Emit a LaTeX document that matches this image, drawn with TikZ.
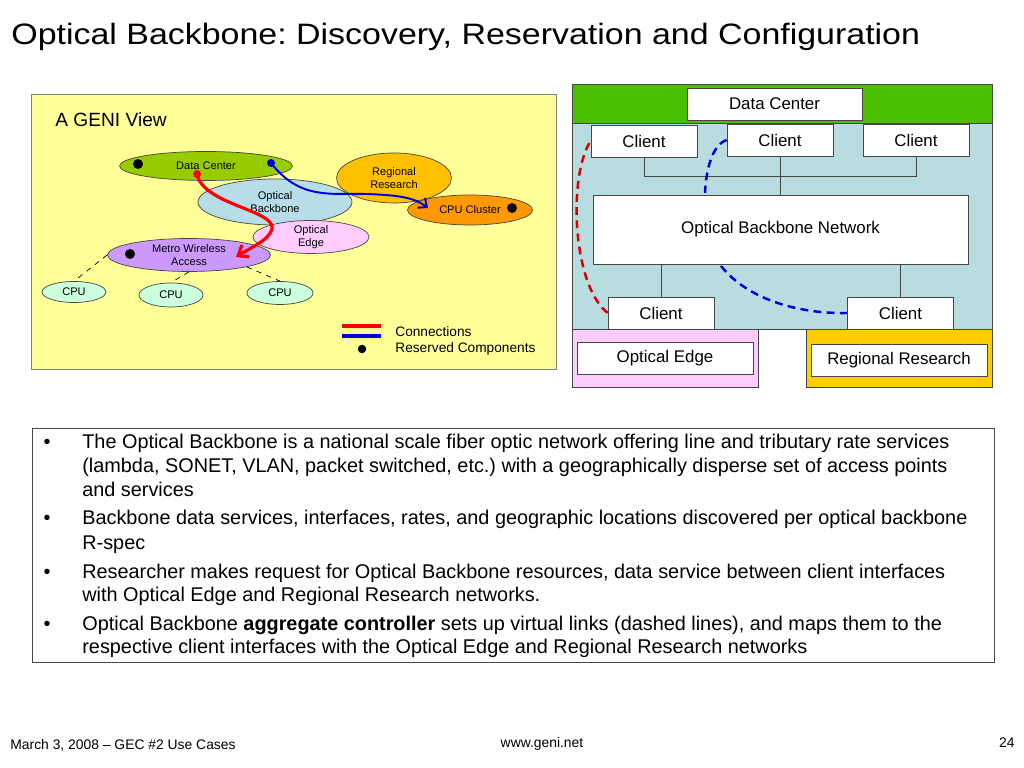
\documentclass[tikz,border=0pt]{standalone}
\usepackage{fontspec}
\setmainfont{Liberation Sans}
\newfontfamily\titlefont[FakeStretch=1.15]{Liberation Sans}
\usetikzlibrary{shapes.geometric,arrows.meta}

\definecolor{viewyellow}{RGB}{255,255,153}
\definecolor{dcgreen}{RGB}{153,204,0}
\definecolor{obblue}{RGB}{183,221,232}
\definecolor{rrgold}{RGB}{255,192,0}
\definecolor{ccorange}{RGB}{255,153,0}
\definecolor{oepink}{RGB}{255,204,255}
\definecolor{mwpurple}{RGB}{204,153,255}
\definecolor{cpugreen}{RGB}{204,255,221}
\definecolor{bargreen}{RGB}{76,190,0}
\definecolor{netblue}{RGB}{183,221,225}
\definecolor{boxgold}{RGB}{255,204,0}
\definecolor{linkred}{RGB}{255,0,0}
\definecolor{linkblue}{RGB}{0,0,220}
\definecolor{rim}{RGB}{70,70,70}
\def\s{0.02}
\def\pxl#1#2{({(#1)*\s},{(768-(#2))*\s})}

\begin{document}
\frenchspacing
\begin{tikzpicture}[
  blob/.style={ellipse,draw=rim,inner sep=0pt,align=center,
    font=\fontsize{6.3}{7.4}\selectfont},
  dotmark/.style={circle,fill=black,inner sep=0pt,minimum size=0.2cm},
  endmark/.style={circle,inner sep=0pt,minimum size=0.16cm},
  netbox/.style={rectangle,draw=rim,fill=white,inner sep=0pt,
    minimum width=2.12cm,minimum height=0.64cm,font=\fontsize{9.6}{11}\selectfont},
  wire/.style={draw=rim,line width=0.5pt},
  vlink/.style={line width=1.4pt,dash pattern=on 4.5pt off 3pt},
  txt/.style={inner sep=0pt,font=\fontsize{11.3}{13}\selectfont},
  foot/.style={inner sep=0pt,font=\fontsize{7.9}{9}\selectfont}]
\useasboundingbox \pxl{0}{0} rectangle \pxl{1024}{768};

% title
\node[inner sep=0pt,anchor=base west,font=\titlefont\fontsize{16.8}{19}\selectfont] (title) at \pxl{11}{45}
  {Optical Backbone: Discovery, Reservation and Configuration};

% the GENI view
\draw[fill=viewyellow,draw=gray] \pxl{31}{94} rectangle \pxl{556}{369};
\node[inner sep=0pt,anchor=base west,font=\fontsize{10.9}{12}\selectfont] (view) at \pxl{55}{127} {A GENI View};
\node[blob,fill=dcgreen,minimum width=3.46cm,minimum height=0.58cm] (dc) at \pxl{206}{166} {Data Center};
\node[blob,fill=obblue,minimum width=3.08cm,minimum height=0.92cm] (ob) at \pxl{275}{202} {Optical\\Backbone};
\node[blob,fill=rrgold,minimum width=2.30cm,minimum height=1.00cm] (rr) at \pxl{394}{178} {Regional\\Research};
\node[blob,fill=ccorange,minimum width=2.50cm,minimum height=0.60cm] (cc) at \pxl{470}{210} {CPU Cluster};
\node[blob,fill=oepink,minimum width=2.32cm,minimum height=0.62cm] (oe) at \pxl{311}{237} {Optical\\Edge};
\node[blob,fill=mwpurple,minimum width=3.26cm,minimum height=0.66cm] (mw) at \pxl{189}{255} {Metro Wireless\\Access};
\node[blob,fill=cpugreen,minimum width=1.28cm,minimum height=0.42cm] (cpua) at \pxl{74}{292} {CPU};
\node[blob,fill=cpugreen,minimum width=1.28cm,minimum height=0.48cm] (cpub) at \pxl{171}{295} {CPU};
\node[blob,fill=cpugreen,minimum width=1.32cm,minimum height=0.46cm] (cpuc) at \pxl{280}{293} {CPU};
\draw[dashed,line width=0.4pt] (mw.west) -- (cpua.north);
\draw[dashed,line width=0.4pt] (mw.south) -- (cpub.north);
\draw[dashed,line width=0.4pt] (mw.south east) -- (cpuc.north);

\node[dotmark] (dcdot) at \pxl{138}{164} {};
\node[dotmark] (ccdot) at \pxl{512}{208} {};
\node[dotmark] (mwdot) at \pxl{130}{254} {};
\node[endmark,fill=linkred] (dcred) at \pxl{197}{174} {};
\node[endmark,fill=linkblue] (dcblue) at \pxl{271}{163} {};
\path \pxl{236}{257} coordinate (mwin);
\path \pxl{428}{208} coordinate (ccin);
\draw[linkred,line width=1.8pt,-{Straight Barb[length=5pt,width=8pt]}] (dcred.center)
  .. controls \pxl{203}{205} and \pxl{276}{210} .. \pxl{272}{229}
  .. controls \pxl{269}{240} and \pxl{252}{247} .. (mwin);
\draw[linkblue,line width=1.1pt,-{Straight Barb[length=4pt,width=7pt]}] (dcblue.center)
  .. controls \pxl{300}{200} and \pxl{330}{193} .. \pxl{365}{194}
  .. controls \pxl{400}{195} and \pxl{415}{198} .. (ccin);

% legend
\path \pxl{342}{326} coordinate (lgr);
\path \pxl{342}{336} coordinate (lgb);
\draw[linkred,line width=2.2pt] (lgr) -- ++(0.78,0);
\draw[linkblue,line width=2.2pt] (lgb) -- ++(0.78,0);
\node[dotmark,minimum size=0.17cm] (lgdot) at \pxl{362}{349} {};
\node[inner sep=0pt,anchor=base west,font=\fontsize{7.8}{9}\selectfont] (lgconn) at \pxl{395}{337} {Connections};
\node[inner sep=0pt,anchor=base west,font=\fontsize{7.8}{9}\selectfont] (lgres) at \pxl{395}{353} {Reserved Components};

% the optical backbone network
\draw[fill=bargreen,draw=rim] \pxl{572}{84} rectangle \pxl{992}{123};
\draw[fill=netblue,draw=rim] \pxl{572}{123} rectangle \pxl{992}{329};
\draw[fill=oepink,draw=rim] \pxl{572}{329} rectangle \pxl{758}{387};
\draw[fill=boxgold,draw=rim] \pxl{806}{329} rectangle \pxl{992}{387};
\node[netbox,minimum width=3.5cm] (dcbox) at \pxl{774.5}{104} {Data Center};
\node[netbox] (cla) at \pxl{644}{141} {Client};
\node[netbox] (clb) at \pxl{780}{140} {Client};
\node[netbox] (clc) at \pxl{916}{140} {Client};
\node[netbox,minimum width=7.5cm,minimum height=1.38cm] (obn) at \pxl{780.5}{229.5} {Optical Backbone Network};
\node[netbox] (cll) at \pxl{661}{313} {Client};
\node[netbox] (clr) at \pxl{900.5}{313} {Client};
\node[netbox,minimum width=3.52cm] (oebox) at \pxl{665}{358} {Optical Edge};
\node[netbox,minimum width=3.52cm] (rrbox) at \pxl{899}{360} {Regional Research};
\draw[wire] (cla.south) -- ++(0,-0.38) -| (clc.south);
\draw[wire] (clb.south) -- (clb.south |- obn.north);
\draw[wire] (cll.north |- obn.south) -- (cll.north);
\draw[wire] (clr.north |- obn.south) -- (clr.north);
\path \pxl{705}{193} coordinate (obtop);
\path \pxl{721}{266} coordinate (obbot);
\draw[vlink,linkred!85!black] (cll.west) .. controls \pxl{572}{285} and \pxl{568}{175} .. (cla.west);
\draw[vlink,linkblue] (clb.west) .. controls \pxl{712}{145} and \pxl{706}{170} .. (obtop);
\draw[vlink,linkblue] (obbot) .. controls \pxl{748}{300} and \pxl{800}{314} .. (clr.west);

% bullets
\draw[draw=rim] \pxl{32}{428} rectangle \pxl{994}{662};
\foreach \y/\n in {449/1,525/2,579/3,631/4}
  \node[txt,anchor=base] (bul\n) at \pxl{47}{\y} {•};
\node[txt,anchor=base west] (ta) at \pxl{82}{449} {The Optical Backbone is a national scale fiber optic network offering line and tributary rate services};
\node[txt,anchor=base west] (tb) at \pxl{82}{473} {(lambda, SONET, VLAN, packet switched, etc.) with a geographically disperse set of access points};
\node[txt,anchor=base west] (tc) at \pxl{82}{497} {and services};
\node[txt,anchor=base west] (td) at \pxl{82}{525} {Backbone data services, interfaces, rates, and geographic locations discovered per optical backbone};
\node[txt,anchor=base west] (te) at \pxl{82}{550} {R-spec};
\node[txt,anchor=base west] (tf) at \pxl{82}{579} {Researcher makes request for Optical Backbone resources, data service between client interfaces};
\node[txt,anchor=base west] (tg) at \pxl{82}{602} {with Optical Edge and Regional Research networks.};
\node[txt,anchor=base west] (th) at \pxl{82}{631} {Optical Backbone \textbf{aggregate controller} sets up virtual links (dashed lines), and maps them to the};
\node[txt,anchor=base west] (ti) at \pxl{82}{654} {respective client interfaces with the Optical Edge and Regional Research networks};

% footer
\node[foot,anchor=base west] (fdate) at \pxl{10}{750} {March 3, 2008 – GEC \#2 Use Cases};
\node[foot,anchor=base] (fweb) at \pxl{542}{748} {www.geni.net};
\node[foot,anchor=base east] (fpage) at \pxl{1015}{748} {24};
\end{tikzpicture}
\end{document}
